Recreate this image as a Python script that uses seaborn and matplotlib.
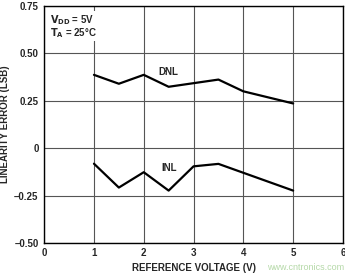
import seaborn as sns
import matplotlib.pyplot as plt
import pandas as pd

# data
dnl_v = [1.0, 1.5, 2.0, 2.5, 3.5, 4.0, 5.0]
dnl_err = [0.387, 0.34, 0.387, 0.324, 0.362, 0.30, 0.236]
inl_v = [1.0, 1.5, 2.0, 2.5, 3.0, 3.5, 5.0]
inl_err = [-0.082, -0.208, -0.127, -0.224, -0.096, -0.083, -0.224]

x_ticks = [0, 1, 2, 3, 4, 5, 6]
y_ticks = [-0.5, -0.25, 0, 0.25, 0.5, 0.75]
y_labels = ['\u20130.50', '\u20130.25', '0', '0.25', '0.50', '0.75']

df = pd.concat([
    pd.DataFrame({'v': dnl_v, 'err': dnl_err, 'curve': 'DNL'}),
    pd.DataFrame({'v': inl_v, 'err': inl_err, 'curve': 'INL'}),
])

sns.set_style('whitegrid')
plt.rcParams['font.family'] = ['Liberation Sans', 'DejaVu Sans']
plt.rcParams['font.weight'] = 'bold'

fig = plt.figure(figsize=(3.45, 2.76), dpi=100)
ax = fig.add_axes([0.128, 0.12, 0.866, 0.858])

sns.lineplot(data=df, x='v', y='err', units='curve', estimator=None,
             color='black', linewidth=1.6, ax=ax, legend=False)

ax.set_xlim(0, 6)
ax.set_ylim(-0.5, 0.75)
ax.set_xticks(x_ticks)
ax.set_yticks(y_ticks)
ax.set_yticklabels(y_labels)
ax.tick_params(length=0, labelsize=7, pad=4)
for lab in ax.get_xticklabels() + ax.get_yticklabels():
    lab.set_fontweight('bold')
ax.grid(True, color='#555555', linewidth=0.8)
for s in ax.spines.values():
    s.set_color('black')
    s.set_linewidth(1.0)

ax.set_xlabel('REFERENCE VOLTAGE (V)', fontsize=7, fontweight='bold', labelpad=3)
ax.set_ylabel('LINEARITY ERROR (LSB)', fontsize=7, fontweight='bold', labelpad=3)

ax.text(2.3, 0.385, 'DNL', fontsize=7, fontweight='bold', ha='left', va='baseline')
ax.text(2.36, -0.12, 'INL', fontsize=7, fontweight='bold', ha='left', va='baseline')
ax.text(0.12, 0.715, '$\\mathbf{V_{DD}}$ = 5V', fontsize=7, fontweight='bold', va='top',
        bbox=dict(facecolor='white', edgecolor='none', pad=1))
ax.text(0.12, 0.645, '$\\mathbf{T_{A}}$ = 25\u00b0C', fontsize=7, fontweight='bold', va='top',
        bbox=dict(facecolor='white', edgecolor='none', pad=1))

# watermark of the source site
fig.text(0.997, 0.03, 'www.cntronics.com', fontsize=6.5, color='#b5d9a8',
         ha='right', va='center', fontweight='normal')

fig.savefig('out.png', dpi=100)
